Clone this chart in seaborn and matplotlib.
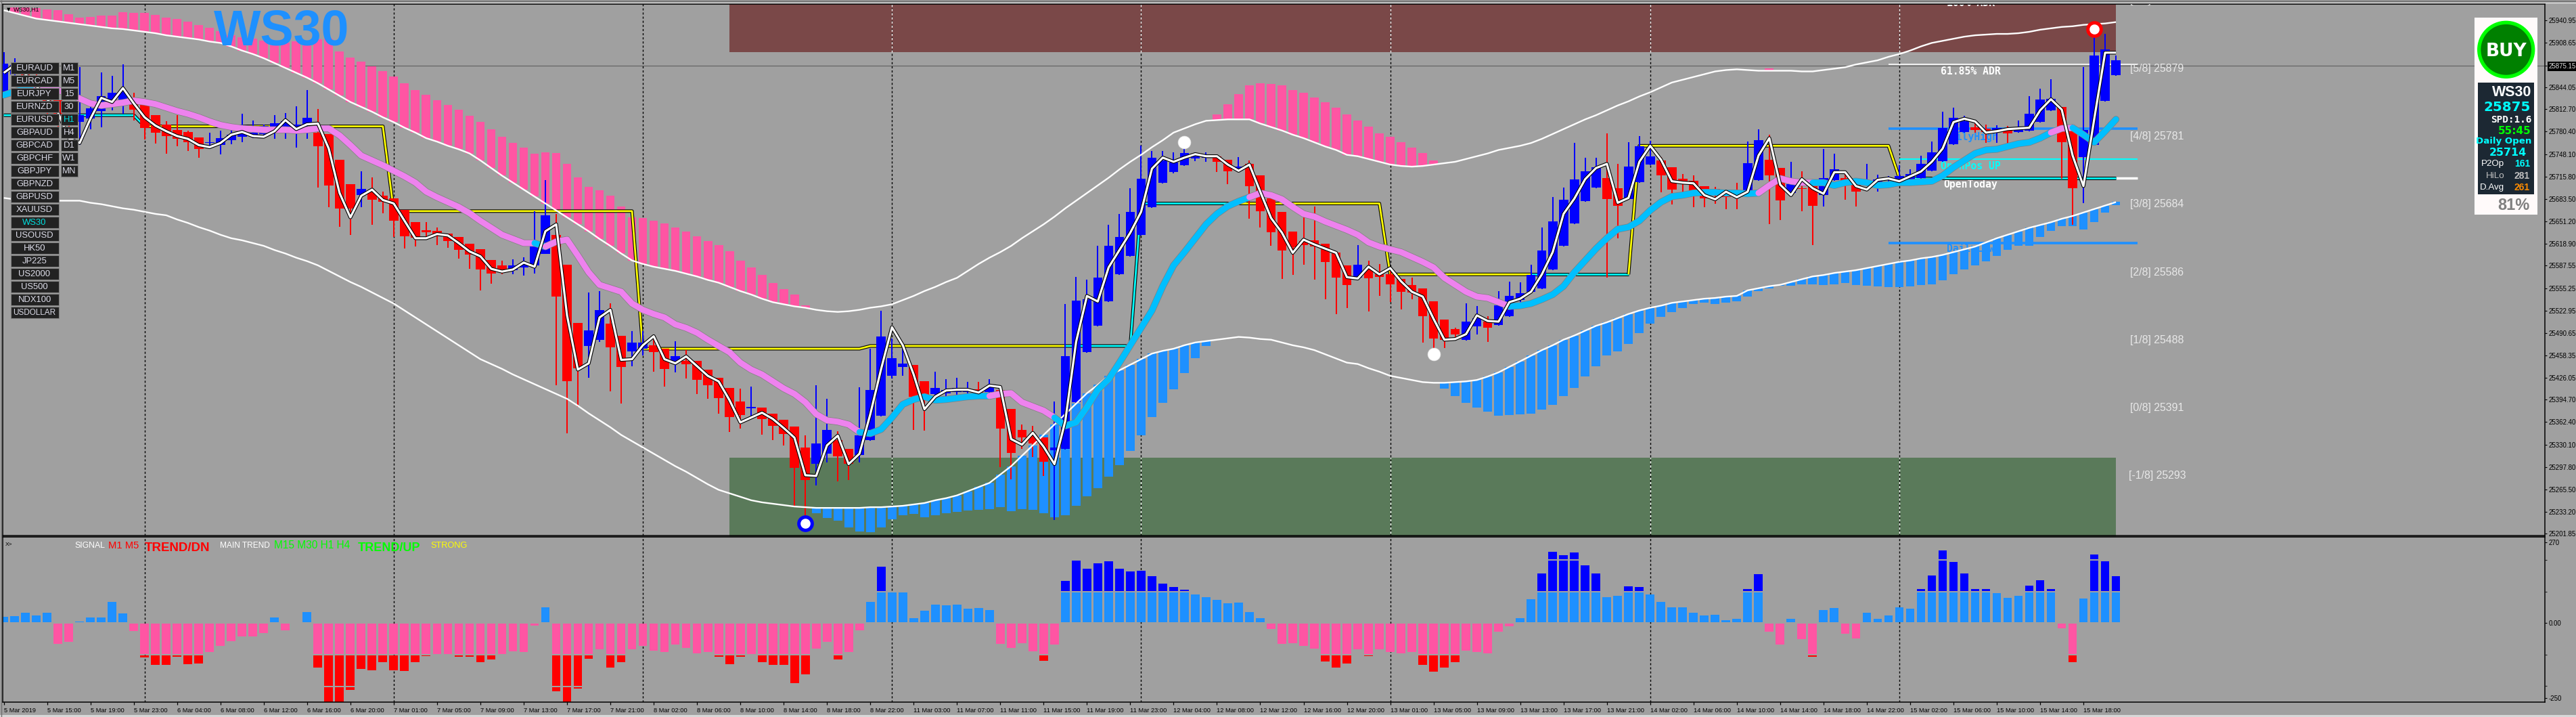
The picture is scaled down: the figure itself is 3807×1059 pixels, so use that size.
import numpy as np
import matplotlib
matplotlib.use("Agg")
import matplotlib.pyplot as plt
import matplotlib.patheffects as pe
from matplotlib.patches import Ellipse, Rectangle
import seaborn as sns

W, H = 3807, 1059
BG = "#A0A0A0"

# --- price data, H1 bars from 5 Mar 2019 ---
opens = [25838,25863,25863,25858,25846,25826,25801,25794,25799,25810,25826,25826,25826,25819,25804,25791,25783,25780,25772,25764,
25761,25768,25773,25776,25777,25786,25787,25785,25791,25779,25777,25740,25705,25689,25693,25688,25684,25668,25650,25639,
25638,25634,25629,25619,25611,25596,25588,25581,25585,25588,25604,25632,25589,25505,25472,25481,25504,25487,25464,25468,
25473,25468,25449,25451,25451,25438,25426,25412,25392,25382,25383,25375,25366,25356,25326,25302,25317,25337,25324,25315,
25337,25372,25429,25442,25445,25421,25403,25404,25406,25406,25410,25406,25409,25381,25351,25343,25340,25322,25324,25391,
25463,25501,25536,25575,25602,25632,25672,25707,25722,25732,25742,25743,25745,25740,25724,25734,25717,25684,25665,25637,
25623,25624,25619,25606,25588,25570,25583,25575,25575,25568,25560,25555,25536,25510,25496,25481,25500,25507,25502,25515,
25538,25550,25555,25582,25616,25648,25680,25700,25714,25699,25683,25708,25733,25739,25729,25713,25710,25702,25698,25695,
25696,25695,25711,25740,25728,25692,25699,25702,25689,25711,25714,25707,25703,25704,25711,25711,25712,25714,25724,25738,
25762,25780,25787,25785,25781,25784,25780,25782,25794,25811,25816,25781,25744,25761,25825,25862]
closes = [25878,25876,25851,25846,25821,25801,25791,25804,25814,25831,25836,25837,25812,25786,25779,25774,25770,25765,25755,25765,
25771,25776,25777,25779,25789,25792,25795,25791,25800,25759,25703,25670,25670,25698,25682,25679,25652,25630,25628,25636,
25630,25623,25610,25603,25582,25576,25582,25588,25590,25615,25660,25543,25421,25440,25494,25524,25470,25442,25477,25477,
25463,25439,25457,25446,25423,25415,25397,25370,25373,25384,25367,25357,25345,25297,25279,25332,25351,25313,25302,25343,
25409,25486,25454,25447,25399,25401,25412,25409,25412,25410,25405,25414,25353,25318,25340,25332,25305,25326,25457,25537,
25539,25570,25616,25629,25665,25713,25743,25739,25736,25750,25745,25746,25737,25723,25730,25702,25666,25636,25609,25614,
25617,25615,25593,25570,25560,25589,25569,25571,25561,25550,25549,25515,25483,25481,25489,25507,25512,25498,25530,25544,
25548,25574,25609,25651,25682,25712,25723,25729,25683,25674,25730,25759,25745,25717,25697,25707,25694,25684,25694,25686,
25689,25735,25768,25717,25681,25705,25698,25674,25714,25726,25709,25694,25707,25712,25714,25716,25719,25734,25751,25786,
25800,25795,25783,25780,25786,25778,25785,25806,25827,25828,25765,25699,25783,25890,25899,25883]
highs = [25895,25886,25868,25863,25853,25846,25806,25873,25826,25866,25861,25877,25836,25819,25804,25795,25804,25782,25772,25779,
25782,25786,25806,25796,25791,25804,25807,25817,25840,25813,25777,25740,25705,25723,25715,25694,25684,25668,25650,25650,
25642,25634,25629,25619,25611,25596,25595,25597,25600,25666,25711,25662,25589,25505,25549,25551,25533,25487,25493,25493,
25486,25468,25479,25466,25451,25438,25426,25412,25411,25414,25383,25375,25366,25356,25343,25415,25396,25349,25324,25413,
25468,25523,25483,25471,25445,25421,25435,25424,25426,25420,25420,25424,25409,25381,25359,25357,25340,25392,25532,25571,
25567,25616,25646,25662,25699,25760,25753,25753,25751,25765,25751,25751,25747,25740,25744,25739,25717,25684,25665,25637,
25662,25673,25619,25606,25588,25617,25595,25590,25585,25568,25570,25555,25536,25510,25498,25533,25529,25515,25551,25565,
25564,25589,25642,25686,25700,25764,25743,25743,25778,25734,25765,25774,25767,25744,25729,25719,25717,25702,25701,25697,
25707,25766,25784,25776,25728,25737,25723,25707,25755,25749,25722,25714,25734,25718,25716,25732,25726,25746,25766,25809,
25815,25803,25796,25791,25790,25789,25796,25831,25842,25856,25816,25784,25873,25928,25921,25890]
lows = [25831,25856,25846,25836,25801,25781,25779,25761,25784,25787,25811,25806,25796,25769,25763,25749,25759,25753,25743,25755,
25748,25762,25765,25771,25774,25770,25770,25757,25770,25700,25672,25643,25632,25672,25646,25663,25629,25612,25615,25626,
25617,25613,25598,25583,25552,25562,25575,25575,25573,25576,25604,25415,25346,25384,25426,25478,25407,25389,25443,25458,
25435,25414,25434,25425,25403,25396,25375,25348,25353,25369,25344,25337,25329,25241,25225,25271,25304,25277,25279,25304,
25336,25371,25425,25429,25351,25350,25394,25394,25394,25395,25399,25404,25298,25280,25324,25312,25285,25222,25323,25390,
25462,25500,25535,25574,25601,25631,25671,25706,25720,25731,25738,25737,25722,25705,25723,25655,25642,25616,25568,25574,
25589,25567,25539,25518,25527,25568,25522,25544,25535,25525,25539,25477,25459,25469,25481,25480,25489,25478,25501,25514,
25535,25548,25554,25581,25615,25647,25679,25699,25570,25627,25682,25707,25732,25693,25676,25692,25672,25672,25677,25669,
25669,25694,25710,25647,25653,25691,25666,25617,25673,25710,25682,25673,25702,25694,25707,25710,25711,25713,25723,25737,
25761,25779,25779,25764,25764,25763,25779,25781,25793,25810,25713,25646,25678,25760,25824,25861]

fast_line = [25865,25876,25863,25846,25827,25808,25771,25764,25799,25829,25823,25843,25821,25801,25789,25781,25774,25770,25761,25758,
25764,25776,25780,25774,25773,25781,25797,25784,25791,25792,25756,25692,25657,25688,25697,25682,25677,25652,25627,25627,
25633,25631,25620,25608,25601,25583,25579,25582,25592,25586,25637,25647,25516,25438,25447,25513,25524,25452,25453,25473,
25486,25453,25447,25457,25443,25429,25421,25394,25362,25369,25376,25367,25354,25340,25286,25285,25329,25343,25302,25317,
25374,25439,25499,25473,25431,25381,25399,25408,25409,25409,25405,25415,25413,25338,25330,25347,25327,25302,25364,25478,
25544,25536,25585,25610,25635,25665,25727,25743,25737,25743,25748,25745,25745,25733,25724,25733,25694,25656,25635,25606,
25625,25618,25612,25606,25571,25569,25586,25575,25584,25565,25550,25543,25511,25481,25482,25489,25516,25508,25507,25535,
25540,25550,25575,25607,25662,25684,25712,25728,25734,25678,25685,25737,25760,25740,25709,25707,25706,25689,25683,25694,
25686,25694,25746,25771,25704,25689,25712,25699,25691,25722,25722,25702,25697,25711,25713,25709,25716,25723,25737,25756,
25794,25799,25795,25779,25781,25784,25785,25786,25811,25827,25812,25746,25702,25799,25894,25894]
upper_band = [25955,25951,25947,25943,25941,25939,25937,25935,25933,25931,25929,25928,25926,25924,25922,25919,25917,25915,25913,25910,
25908,25903,25897,25892,25886,25879,25872,25865,25858,25850,25841,25832,25823,25816,25809,25801,25794,25786,25779,25771,
25766,25760,25755,25749,25739,25728,25717,25707,25697,25687,25677,25667,25657,25647,25637,25626,25616,25605,25595,25590,
25586,25583,25580,25576,25572,25567,25563,25557,25551,25546,25540,25535,25532,25529,25527,25524,25522,25521,25522,25524,
25527,25529,25532,25538,25544,25551,25557,25564,25570,25580,25590,25599,25607,25616,25627,25637,25647,25658,25670,25681,
25692,25703,25714,25726,25737,25747,25758,25768,25779,25785,25791,25796,25797,25798,25798,25798,25792,25787,25782,25776,
25771,25765,25759,25754,25747,25745,25741,25737,25733,25731,25730,25731,25733,25735,25737,25741,25745,25749,25754,25757,
25760,25764,25770,25777,25784,25791,25798,25804,25811,25818,25824,25831,25837,25844,25851,25855,25859,25863,25867,25869,
25870,25869,25868,25868,25868,25868,25867,25867,25869,25871,25873,25877,25880,25883,25888,25892,25897,25903,25908,25911,
25914,25917,25919,25920,25921,25921,25922,25924,25927,25929,25931,25932,25934,25935,25936,25938]
lower_band = [25685,25683,25682,25681,25681,25681,25681,25681,25678,25676,25673,25670,25668,25665,25662,25660,25654,25649,25643,25638,
25632,25627,25624,25620,25616,25610,25605,25599,25594,25588,25580,25572,25564,25557,25549,25541,25533,25523,25513,25503,
25493,25483,25473,25463,25453,25446,25439,25431,25424,25417,25410,25403,25396,25386,25375,25365,25355,25344,25335,25326,
25317,25308,25299,25291,25282,25273,25265,25260,25255,25250,25247,25245,25243,25241,25240,25239,25239,25239,25239,25239,
25240,25240,25241,25242,25244,25246,25250,25253,25257,25263,25269,25275,25287,25299,25314,25329,25344,25359,25374,25389,
25404,25416,25429,25437,25445,25453,25461,25465,25468,25473,25477,25479,25481,25483,25485,25484,25482,25481,25477,25473,
25470,25466,25460,25454,25448,25446,25440,25435,25429,25426,25423,25420,25419,25419,25420,25421,25423,25428,25434,25442,
25450,25458,25466,25473,25481,25487,25494,25501,25506,25512,25518,25523,25527,25530,25534,25536,25538,25540,25541,25543,
25544,25552,25555,25558,25560,25564,25568,25572,25574,25577,25579,25581,25584,25587,25590,25593,25595,25598,25600,25603,
25607,25611,25615,25621,25627,25632,25637,25642,25646,25650,25655,25659,25664,25669,25674,25679]
ma_line = [25833,25838,25842,25845,25843,25840,25835,25828,25821,25818,25820,25822,25825,25823,25820,25815,25810,25806,25801,25795,
25790,25787,25785,25784,25783,25783,25783,25782,25783,25785,25785,25775,25761,25746,25739,25732,25724,25716,25707,25694,
25686,25679,25672,25663,25652,25642,25632,25626,25620,25620,25615,25622,25625,25602,25578,25560,25555,25550,25533,25524,
25518,25513,25503,25498,25491,25481,25472,25463,25448,25438,25431,25421,25411,25403,25391,25374,25365,25363,25359,25348,
25346,25352,25369,25388,25395,25399,25394,25395,25397,25399,25400,25400,25403,25404,25391,25385,25379,25369,25357,25362,
25384,25409,25424,25448,25473,25498,25523,25558,25588,25607,25627,25647,25662,25673,25680,25686,25692,25689,25683,25672,
25662,25658,25651,25645,25639,25632,25621,25615,25611,25607,25600,25593,25585,25570,25560,25550,25543,25541,25535,25529,
25530,25533,25539,25546,25558,25578,25595,25612,25627,25640,25643,25652,25667,25679,25687,25689,25692,25693,25693,25692,
25692,25691,25692,25703,25713,25709,25707,25707,25707,25703,25707,25709,25707,25703,25704,25707,25707,25708,25709,25717,
25729,25739,25749,25754,25755,25759,25763,25765,25771,25779,25785,25786,25776,25765,25781,25798]
step_levels = [25804, 25788, 25666, 25468, 25472, 25677, 25575, 25760, 25714]
step_runs = [13, 23, 23, 21, 25, 23, 23, 24, 21]

# histogram hung on the bands: (first bar, far end of each bar)
pink_start_a = 1
pink_a = [25959,25959,25958,25956,25955,25949,25944,25945,25947,25947,25952,25951,25951,25948,25944,25942,25939,25934,25930,25925,
25919,25916,25914,25911,25910,25908,25910,25910,25913,25914,25896,25887,25881,25874,25867,25860,25850,25840,25833,25826,
25819,25812,25803,25794,25784,25773,25764,25757,25749,25751,25750,25734,25715,25701,25696,25688,25673,25657,25656,25652,
25648,25642,25637,25630,25623,25617,25608,25595,25585,25574,25563,25554,25546,25530]
pink_start_b = 112
pink_b = [25805,25820,25834,25847,25850,25849,25847,25840,25836,25829,25823,25815,25805,25796,25788,25778,25773,25765,25757,25750,25739]
blue_start_a = 75
blue_a = [25231,25225,25221,25211,25205,25204,25211,25223,25228,25230,25226,25228,25231,25233,25235,25236,25237,25240,25234,25237,
25236,25231,25226,25228,25242,25256,25267,25284,25301,25321,25343,25370,25390,25410,25433,25454,25472]
blue_start_b = 133
blue_b = [25411,25400,25390,25383,25377,25372,25373,25374,25375,25380,25387,25400,25412,25428,25443,25458,25464,25475,25490,25504,
25514,25521,25527,25532,25534,25532,25534,25536,25543,25551,25555,25559,25559,25561,25561,25560,25561,25563,25560,25559,
25558,25557,25557,25558,25560,25561,25566,25575,25582,25588,25594,25602,25610,25616,25616,25629,25638,25644,25644,25640,
25650,25664,25675]

# lower oscillator
osc = [21,23,36,25,36,-68,-63,4.5,18,18,72,32,-25,-115,-138,-140,-111,-136,-134,-95,
-75,-61,-45,-43,-32,20,-23,0,38,-147,-265,-265,-222,-152,-156,-131,-156,-159,-129,-109,
-102,-102,-111,-111,-131,-122,-102,-93,-95,-7,52,-226,-265,-217,-118,-88,-149,-131,-86,-75,
-91,-97,-72,-82,-100,-97,-113,-136,-113,-102,-131,-138,-140,-199,-170,-84,-63,-122,-95,-23,
72,188,104,104,16,41,63,59,61,48,50,43,-68,-82,-66,-93,-125,-72,140,208,
181,199,206,181,172,174,156,131,120,111,97,88,77,66,68,38,16,-20,-68,-66,
-75,-84,-127,-149,-134,-88,-109,-88,-97,-100,-95,-138,-161,-147,-129,-91,-97,-100,-29,-11,
16,79,165,238,226,235,192,165,88,91,122,120,97,70,54,54,36,25,29,9,
14,115,163,-29,-72,14,-54,-111,43,50,-36,-50,34,14,25,52,48,113,159,242,
204,165,113,115,100,84,91,125,143,113,-18,-129,82,229,206,156]

time_labels = ["5 Mar 2019","5 Mar 15:00","5 Mar 19:00","5 Mar 23:00","6 Mar 04:00","6 Mar 08:00","6 Mar 12:00","6 Mar 16:00","6 Mar 20:00",
"7 Mar 01:00","7 Mar 05:00","7 Mar 09:00","7 Mar 13:00","7 Mar 17:00","7 Mar 21:00","8 Mar 02:00","8 Mar 06:00","8 Mar 10:00","8 Mar 14:00","8 Mar 18:00",
"8 Mar 22:00","11 Mar 03:00","11 Mar 07:00","11 Mar 11:00","11 Mar 15:00","11 Mar 19:00","11 Mar 23:00","12 Mar 04:00","12 Mar 08:00","12 Mar 12:00",
"12 Mar 16:00","12 Mar 20:00","13 Mar 01:00","13 Mar 05:00","13 Mar 09:00","13 Mar 13:00","13 Mar 17:00","13 Mar 21:00","14 Mar 02:00","14 Mar 06:00",
"14 Mar 10:00","14 Mar 14:00","14 Mar 18:00","14 Mar 22:00","15 Mar 02:00","15 Mar 06:00","15 Mar 10:00","15 Mar 14:00","15 Mar 18:00"]
price_ticks = [25940.95,25908.65,25875.15,25844.05,25812.70,25780.40,25748.10,25715.80,25683.50,25651.20,25618.90,25587.55,
25555.25,25522.95,25490.65,25458.35,25426.05,25394.70,25362.40,25330.10,25297.80,25265.50,25233.20,25201.85]
separators = [13, 36, 59, 82, 105, 128, 152, 175]
murrey_names = ["[6/8]","[5/8]","[4/8]","[3/8]","[2/8]","[1/8]","[0/8]","[-1/8]"]
murrey_levels = [25977, 25879, 25781, 25684, 25586, 25488, 25391, 25293]
symbols = ["EURAUD","EURCAD","EURJPY","EURNZD","EURUSD","GBPAUD","GBPCAD","GBPCHF","GBPJPY","GBPNZD","GBPUSD",
           "XAUUSD","WS30","USOUSD","HK50","JP225","US2000","US500","NDX100","USDOLLAR"]
periods = ["M1","M5","15","30","H1","H4","D1","W1","MN"]

sns.set_theme(style="white", rc={"axes.facecolor": BG, "figure.facecolor": BG, "axes.edgecolor": "black"})
plt.rcParams["font.family"] = ["Liberation Sans", "DejaVu Sans"]

fig = plt.figure(figsize=(W / 100, H / 100), dpi=100)


def px_axes(x0, y0, x1, y1):
    return fig.add_axes([x0 / W, 1 - y1 / H, (x1 - x0) / W, (y1 - y0) / H])


ax = px_axes(4, 5.5, 3761, 790.5)
ax2 = px_axes(4, 793.4, 3761, 1036.9)
bar_x = np.arange(196)
XLIM = (-0.1, 234.6)
ax.set_xlim(*XLIM)
ax2.set_xlim(*XLIM)
ax.set_ylim(25199.7, 25964.4)
ax2.set_ylim(-263, 287)


def draw_line(x, y, color, lw, edge=None, edge_lw=0, z=5, cap="butt", target=None):
    effects = [pe.Stroke(linewidth=edge_lw, foreground=edge), pe.Normal()] if edge else None
    sns.lineplot(x=x, y=y, ax=target or ax, color=color, linewidth=lw, estimator=None, sort=False,
                 legend=False, zorder=z, path_effects=effects, solid_capstyle=cap, solid_joinstyle="round")


# zones
ax.fill_between([67, 195], 25894.8, 25970, color="#7A4848", lw=0, zorder=1)
ax.fill_between([67, 195], 25190, 25311.7, color="#5A7A5A", lw=0, zorder=1)

# separators, white over the zones as in the terminal
DASH = (0, (2.2, 2.2))
for a in (ax, ax2):
    a.vlines(separators, *a.get_ylim(), color="black", lw=1, linestyles=DASH, zorder=1.5)
inside = [s for s in separators if 67 <= s <= 195]
ax.vlines(inside, 25894.8, 25970, color="white", lw=1, linestyles=DASH, zorder=1.6)
ax.vlines(inside, 25190, 25311.7, color="white", lw=1, linestyles=DASH, zorder=1.6)

ax.axhline(25875.15, color="#606060", lw=0.8, zorder=1.7)

# band histograms
PINK, DODGER = "#FF55A3", "#1E90FF"
ub, lb = np.array(upper_band), np.array(lower_band)
for start, vals in ((pink_start_a, pink_a), (pink_start_b, pink_b)):
    xs = np.arange(start, start + len(vals))
    ax.bar(xs, np.array(vals) - ub[xs], bottom=ub[xs], width=0.8, color=PINK, lw=0, zorder=2)
for start, vals in ((blue_start_a, blue_a), (blue_start_b, blue_b)):
    xs = np.arange(start, start + len(vals))
    ax.bar(xs, np.array(vals) - lb[xs], bottom=lb[xs], width=0.8, color=DODGER, lw=0, zorder=2)
ax.bar([163], [3], bottom=[25868], width=0.8, color=PINK, lw=0, zorder=2)

# right side objects
ax.hlines(25877, 174, 197, color="white", lw=1.2, zorder=2.2)
ax.hlines(25785, 174, 197, color=DODGER, lw=2.6, zorder=2.2)
ax.hlines(25620, 174, 197, color=DODGER, lw=2.6, zorder=2.2)
ax.hlines(25741, 175, 197, color="#00FFFF", lw=1.5, zorder=2.2)
ax.hlines(25714, 195, 197, color="white", lw=2.5, zorder=2.2)
MONO = dict(family=["DejaVu Sans Mono"], fontweight="bold", fontsize=10.6, ha="center", va="center", zorder=2.3)
ax.text(181.6, 25965, "100% ADR", color="white", clip_on=True, **MONO)
ax.text(181.6, 25867, "61.85% ADR", color="white", **MONO)
ax.text(181.6, 25773, "DailyHigh", color=DODGER, **MONO)
ax.text(181.6, 25731, "OpenPos UP", color="#00FFFF", **MONO)
ax.text(181.6, 25704, "OpenToday", color="white", **MONO)
ax.text(181.6, 25612, "DailyLow", color=DODGER, **MONO)

# step line
step = np.repeat(step_levels, step_runs)
STEP_COLORS = [(0, 13, "#00FFFF"), (13, 98, "#FFFF00"), (98, 114, "#00FFFF"), (114, 141, "#FFFF00"),
               (141, 150, "#00FFFF"), (150, 175, "#FFFF00"), (175, 195, "#00FFFF")]
for a, b, c in STEP_COLORS:
    draw_line(bar_x[a:b + 1], step[a:b + 1], c, 2.0, "black", 3.6, z=2.5)

# candles
o, c, hi, lo = map(np.array, (opens, closes, highs, lows))
candle_col = np.where(c >= o, "#0000FF", "#FF0000")
ax.vlines(bar_x, lo, hi, colors=candle_col, lw=1.45, zorder=3)
ax.bar(bar_x, np.maximum(np.abs(c - o), 1), bottom=np.minimum(o, c), width=0.85, color=candle_col, lw=0, zorder=3)

# bands
draw_line(bar_x, upper_band, "white", 1.7, z=4)
draw_line(bar_x, lower_band, "white", 1.7, z=4)

# thick MA, colour follows the slope state
MA_COLORS = [(0, 3, "#00BFFF"), (3, 49, "#EE82EE"), (49, 50, "#00BFFF"), (50, 79, "#EE82EE"), (79, 91, "#00BFFF"),
             (91, 97, "#EE82EE"), (97, 115, "#00BFFF"), (115, 139, "#EE82EE"), (139, 162, "#00BFFF"),
             (162, 167, "#EE82EE"), (167, 189, "#00BFFF"), (189, 191, "#EE82EE"), (191, 195, "#00BFFF")]
for a, b, col in MA_COLORS:
    draw_line(bar_x[a:b + 1], np.array(ma_line)[a:b + 1], "#808080", 7.4, z=4.5, cap="round")
for a, b, col in MA_COLORS:
    draw_line(bar_x[a:b + 1], np.array(ma_line)[a:b + 1], col, 6.4, z=4.6, cap="round")

# fast line
draw_line(bar_x, fast_line, "white", 2.3, "black", 3.9, z=5)

# signal circles
sns.scatterplot(x=[74], y=[25217], ax=ax, color="white", edgecolor="#0000FF", linewidth=3.6, s=200, zorder=6, legend=False)
sns.scatterplot(x=[193], y=[25928], ax=ax, color="white", edgecolor="#FF0000", linewidth=3.6, s=200, zorder=6, legend=False)
sns.scatterplot(x=[109, 132], y=[25765, 25460], ax=ax, color="white", edgecolor="#E0E0E0", linewidth=0.5, s=185, zorder=6, legend=False)

# murrey labels
for name, level in zip(murrey_names, murrey_levels):
    ax.text(198.8, level - 8, f"{name} {level}", color="#E8E8E8", fontsize=11.4,
            ha="center", va="center", zorder=7, clip_on=True)

ax.text(0.9, 25955.5, "WS30,H1", color="black", fontsize=6.5, va="center", zorder=8)
ax.text(0.3, 25955.5, "\u25bc", color="black", family=["DejaVu Sans"], fontsize=5, va="center", zorder=8)
ax.text(19.4, 25924, "WS30", color=DODGER, fontweight="bold", fontsize=53, ha="left", va="center", zorder=8)

# oscillator bars split in 100-wide tiers
osc_v = np.array(osc, dtype=float)
GAP, T1, T2a, T2b, T3 = 2.3, 103, 108, 208, 213
abs_v, sgn = np.abs(osc_v), np.sign(osc_v)
light = np.where(osc_v >= 0, DODGER, PINK)
dark = np.where(osc_v >= 0, "#0000FF", "#FF0000")
h1 = np.clip(np.minimum(abs_v, T1) - GAP, 0, None)
ax2.bar(bar_x, h1 * sgn, bottom=GAP * sgn, width=0.8, color=light, lw=0, zorder=2)
h2 = np.clip(np.minimum(abs_v, T2b) - T2a, 0, None)
ax2.bar(bar_x, h2 * sgn, bottom=T2a * sgn, width=0.8, color=dark, lw=0, zorder=2)
h3 = np.clip(abs_v - T3, 0, None)
ax2.bar(bar_x, h3 * sgn, bottom=T3 * sgn, width=0.8, color=dark, lw=0, zorder=2)

# indicator caption
CAPTION = [(110, "SIGNAL", "white", 8.8, "normal"), (160, "M1 M5", "#FF0000", 10.6, "normal"),
           (214, "TREND/DN", "#FF0000", 13.4, "bold"), (325, "MAIN TREND", "white", 8.6, "normal"),
           (405, "M15 M30 H1 H4", "#00FF00", 11.2, "normal"), (529, "TREND/UP", "#00FF00", 13, "bold"),
           (636, "STRONG", "#FFFF00", 9.2, "normal")]

# axes furniture
for a in (ax, ax2):
    a.set_xlabel("")
    a.set_ylabel("")
    a.yaxis.tick_right()
    a.tick_params(axis="y", length=2.5, width=0.8, pad=1.5, labelsize=7, labelcolor="black", color="black", right=True)
    for sp in a.spines.values():
        sp.set_linewidth(1.1)
    a.spines["top"].set_linewidth(1.2)
ax.set_xticks([])
ax.set_yticks(price_ticks)
ax.set_yticklabels([f"{t:.2f}" for t in price_ticks])
for t in ax.get_yticklabels():
    if t.get_text() == "25875.15":
        t.set_color("#E0E0E0")
        t.set_bbox(dict(facecolor="black", edgecolor="none", pad=1.2))
ax2.set_yticks([270, 0, -250])
ax2.set_yticks([210, 105, -105, -210], minor=True)
ax2.tick_params(axis="y", which="minor", length=2, width=0.8, right=True, left=False)
ax2.set_yticklabels(["270", "0.00", "-250"], fontsize=7)
ax2.set_xticks(bar_x[::4][:len(time_labels)])
ax2.set_xticklabels(time_labels, ha="left", fontsize=6.7, color="black")
ax2.tick_params(axis="x", length=3, width=0.9, pad=3, bottom=True, color="black")

# overlay in picture pixels for the terminal widgets
ov = fig.add_axes([0, 0, 1, 1], zorder=10)
ov.set_xlim(0, W)
ov.set_ylim(H, 0)
ov.axis("off")
ov.patch.set_alpha(0)
ov.hlines(1.5, 0, W, color="#707070", lw=1.2)
ov.hlines(3.5, 0, W, color="#E0E0E0", lw=1.0)
ov.fill_between([0, W], 1056, 1059, color="#D8D8D8", lw=0)
ov.vlines(1.5, 0, 1059, color="#707070", lw=1.0)

for i, name in enumerate(symbols):
    y = 92 + 19 * i
    ov.add_patch(Rectangle((15.5, y), 71, 17, fc="#222222", ec="#808080", lw=0.8))
    size = 8.5 if name == "USDOLLAR" else 9.4
    ov.text(51, y + 8.8, name, color="#00E0E0" if name == "WS30" else "#DCDCE8", fontsize=size, ha="center", va="center")
for i, name in enumerate(periods):
    y = 92 + 19 * i
    ov.add_patch(Rectangle((89.5, y), 25.5, 17, fc="#222222", ec="#808080", lw=0.8))
    ov.text(102, y + 8.8, name, color="#00E0E0" if name == "H1" else "#DCDCE8", fontsize=9.4, ha="center", va="center")

ov.text(13, 804, "X>", color="black", fontsize=6, ha="center", va="center")
for x, label, col, size, weight in CAPTION:
    ov.text(x, 809 if weight == "bold" else 806, label, color=col, fontsize=size,
            fontweight=weight, ha="left", va="center")

# info box
ov.add_patch(Rectangle((3657, 26), 93, 290.7, fc="#FFFAFA", ec="none"))
ov.add_patch(Ellipse((3703.7, 73.3), 80, 80, fc="#008000", ec="#00FF00", lw=3.8))
ov.text(3703.7, 76, "BUY", color="white", family=["DejaVu Sans"], fontweight="bold", fontsize=19, ha="center", va="center")
ov.add_patch(Rectangle((3662, 122), 83, 165, fc="#1C2833", ec="none"))
ov.text(3741, 137, "WS30", color="white", fontweight="bold", fontsize=15.5, ha="right", va="center")
BOLD = dict(family=["DejaVu Sans"], fontweight="bold", va="center")
ov.text(3739.5, 159, "25875", color="#00FFFF", fontsize=14.3, ha="right", **BOLD)
ov.text(3742, 177, "SPD:1.6", color="white", family=["DejaVu Sans Mono"], fontweight="bold", fontsize=10.4, ha="right", va="center")
ov.text(3741, 193, "55:45", color="#00FF00", fontsize=11, ha="right", **BOLD)
ov.text(3741.5, 208.5, "Daily Open", color="#00FFFF", fontsize=9.6, ha="right", **BOLD)
ov.text(3706, 225, "25714", color="#00FFFF", fontsize=11.4, ha="center", **BOLD)
ROWS = [(242, "P2Op", "white", "161", "#00FFFF"), (260, "HiLo", "#C0C0C0", "281", "#C0C0C0"), (277, "D.Avg", "white", "261", "#FF8C00")]
for y, name, c1, val, c2 in ROWS:
    ov.text(3701.5, y, name, color=c1, fontsize=9.6, ha="right", va="center")
    ov.text(3739, y, val, color=c2, fontsize=10, fontweight="bold", ha="right", va="center")
ov.text(3739, 303, "81%", color="#808080", fontweight="bold", fontsize=17, ha="right", va="center")

fig.savefig("out.png", dpi=100, facecolor=BG)
